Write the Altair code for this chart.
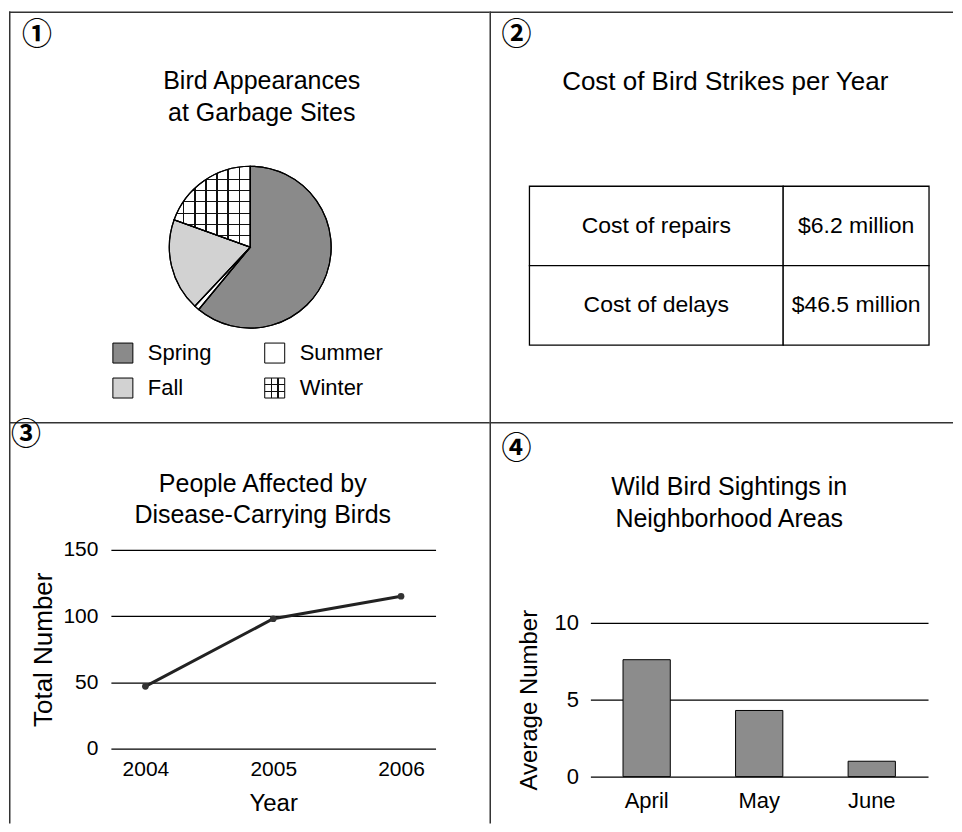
import altair as alt
import pandas as pd

# ---------------- data ----------------
# Panel 1: Bird Appearances at Garbage Sites (percent of pie)
seasons = ["Spring", "Summer", "Fall", "Winter"]
season_share = [61, 1, 18.5, 19.5]

# Panel 2: Cost of Bird Strikes per Year
cost_items = ["Cost of repairs", "Cost of delays"]
cost_values = ["$6.2 million", "$46.5 million"]

# Panel 3: People Affected by Disease-Carrying Birds
years = ["2004", "2005", "2006"]
people = [47, 98, 115]
people_ticks = [0, 50, 100, 150]

# Panel 4: Wild Bird Sightings in Neighborhood Areas
months = ["April", "May", "June"]
sightings = [7.6, 4.3, 1.0]
sighting_ticks = [0, 5, 10]

# ---------------- style ----------------
FONT = "Liberation Sans"
CJK = "Noto Sans CJK JP"
season_fill = ["#8a8a8a", "#ffffff", "#d2d2d2", "#ffffff"]
LINE = "#333333"
W1, W2, H1, H2 = 481, 464, 411, 402

one = pd.DataFrame({"k": [0]})


def stripes(offsets, half, vertical):
    clear = "rgba(0,0,0,0)"
    ink = "#111111"
    stops = [{"offset": 0, "color": clear}]
    for o in offsets:
        stops += [
            {"offset": o - half, "color": clear},
            {"offset": o - half, "color": ink},
            {"offset": o + half, "color": ink},
            {"offset": o + half, "color": clear},
        ]
    stops.append({"offset": 1, "color": clear})
    if vertical:
        return {"gradient": "linear", "x1": 0, "y1": 0, "x2": 1, "y2": 0, "stops": stops}
    return {"gradient": "linear", "x1": 0, "y1": 0, "x2": 0, "y2": 1, "stops": stops}


def text_at(txt, x, y, size, font=FONT, baseline="alphabetic", line_height=None, weight="normal"):
    kw = dict(text=txt, fontSize=size, font=font, align="center",
              baseline=baseline, color="black", fontWeight=weight)
    if line_height:
        kw["lineHeight"] = line_height
    return alt.Chart(one).mark_text(**kw).encode(x=alt.value(x), y=alt.value(y))


def circled(txt, x, y):
    return text_at(txt, x, y, 30, font=CJK, baseline="middle", weight="bold")


def borders(w, h):
    top = alt.Chart(one).mark_rule(color=LINE, strokeWidth=1.5).encode(
        x=alt.value(0), x2=alt.value(w), y=alt.value(0.75))
    left = alt.Chart(one).mark_rule(color=LINE, strokeWidth=1.5).encode(
        x=alt.value(0.75), y=alt.value(0), y2=alt.value(h))
    return [top, left]


is_winter = "datum.season === 'Winter'"

# ---------------- panel 1 ----------------
pie_df = pd.DataFrame({"season": seasons, "share": season_share})
pie_df["idx"] = range(len(seasons))
pie_df["col"] = pie_df["idx"] % 2
pie_df["row"] = pie_df["idx"] // 2

color_scale = alt.Scale(domain=seasons, range=season_fill)
pie_enc = dict(
    theta=alt.Theta("share:Q", stack=True),
    order=alt.Order("idx:Q"),
    x=alt.value(241.5), y=alt.value(236), radius=alt.value(81),
)
pie_base = alt.Chart(pie_df)
pie = pie_base.mark_arc(stroke="black", strokeWidth=1.2).encode(
    fill=alt.Fill("season:N", scale=color_scale, legend=None), **pie_enc)
pie_vgrid = pie_base.mark_arc().encode(
    fill=alt.condition(is_winter,
                       alt.value(stripes([0.127, 0.273, 0.418, 0.564, 0.709, 0.855], 0.008, True)),
                       alt.value("transparent")), **pie_enc)
pie_hgrid = pie_base.mark_arc().encode(
    fill=alt.condition(is_winter,
                       alt.value(stripes([0.16, 0.30, 0.44, 0.58, 0.72, 0.86], 0.0075, False)),
                       alt.value("transparent")), **pie_enc)
pie_outline = pie_base.mark_arc(fillOpacity=0, stroke="black", strokeWidth=1.2).encode(**pie_enc)

lx = alt.X("col:O", scale=alt.Scale(type="point", domain=[0, 1], range=[114, 266], padding=0), axis=None)
ly = alt.Y("row:O", scale=alt.Scale(type="point", domain=[0, 1], range=[342, 377], padding=0), axis=None)
leg_sq = alt.Chart(pie_df).mark_square(size=400, stroke="black", strokeWidth=1, opacity=1).encode(
    x=lx, y=ly, fill=alt.Fill("season:N", scale=color_scale, legend=None))
leg_v = alt.Chart(pie_df).mark_square(size=400, opacity=1).encode(
    x=lx, y=ly,
    fill=alt.condition(is_winter, alt.value(stripes([0.34, 0.66], 0.03, True)), alt.value("transparent")))
leg_h = alt.Chart(pie_df).mark_square(size=400, opacity=1).encode(
    x=lx, y=ly,
    fill=alt.condition(is_winter, alt.value(stripes([0.34, 0.66], 0.03, False)), alt.value("transparent")))
leg_txt = alt.Chart(pie_df).mark_text(align="left", baseline="middle", dx=25, fontSize=22,
                                      font=FONT, color="black").encode(x=lx, y=ly, text="season:N")

cell1 = alt.layer(
    *borders(W1, H1),
    circled("①", 28, 24),
    text_at(["Bird Appearances", "at Garbage Sites"], 253, 78, 25, line_height=32),
    pie, pie_vgrid, pie_hgrid, pie_outline,
    leg_sq, leg_v, leg_h, leg_txt,
).properties(width=W1, height=H1)

# ---------------- panel 2 ----------------
tab_df = pd.DataFrame({"item": cost_items, "value": cost_values})
ty = alt.Y("item:N", scale=alt.Scale(type="band", domain=cost_items, range=[175, 334],
                                     paddingInner=0, paddingOuter=0), axis=None)
tab_c1 = alt.Chart(tab_df).mark_rect(fill="white", stroke="black", strokeWidth=1.3).encode(
    y=ty, x=alt.value(40), x2=alt.value(294))
tab_c2 = alt.Chart(tab_df).mark_rect(fill="white", stroke="black", strokeWidth=1.3).encode(
    y=ty, x=alt.value(294), x2=alt.value(440))
tab_t1 = alt.Chart(tab_df).mark_text(fontSize=23, font=FONT, color="black", baseline="middle").encode(
    y=ty, x=alt.value(167), text="item:N")
tab_t2 = alt.Chart(tab_df).mark_text(fontSize=23, font=FONT, color="black", baseline="middle").encode(
    y=ty, x=alt.value(367), text="value:N")

cell2 = alt.layer(
    *borders(W2, H1),
    circled("②", 27, 24),
    text_at("Cost of Bird Strikes per Year", 236, 79, 26),
    tab_c1, tab_c2, tab_t1, tab_t2,
).properties(width=W2, height=H1)

# ---------------- panel 3 ----------------
line_df = pd.DataFrame({"year": years, "people": people})
x3 = alt.X("year:O", scale=alt.Scale(type="point", domain=years, range=[102, 427], padding=0.27),
           axis=alt.Axis(title="Year", offset=-84, labelPadding=19, titlePadding=12, domain=False,
                         ticks=False, grid=False, labelAngle=0, labelFontSize=21, titleFontSize=24))
y3 = alt.Y("people:Q", scale=alt.Scale(domain=[0, 150], range=[327, 128], nice=False),
           axis=alt.Axis(title="Total Number", values=people_ticks, offset=-102, labelPadding=13,
                         titlePadding=6, domain=False, ticks=False, grid=True, gridColor="black",
                         gridWidth=1.2, gridOpacity=1, labelFontSize=21, titleFontSize=26))
line = alt.Chart(line_df).mark_line(color="#222222", strokeWidth=3).encode(x=x3, y=y3)
pts = alt.Chart(line_df).mark_circle(size=45, color="#333333", opacity=1).encode(x=x3, y=y3)

cell3 = alt.layer(
    *borders(W1, H2),
    circled("③", 17, 13),
    text_at(["People Affected by", "Disease-Carrying Birds"], 254, 70, 25, line_height=31),
    line, pts,
).properties(width=W1, height=H2)

# ---------------- panel 4 ----------------
bar_df = pd.DataFrame({"month": months, "sightings": sightings})
x4 = alt.X("month:N", sort=months,
           scale=alt.Scale(type="band", domain=months, range=[101, 439], paddingInner=0.58, paddingOuter=0.29),
           axis=alt.Axis(title=None, offset=-47, labelPadding=14, domain=False, ticks=False, grid=False,
                         labelAngle=0, labelFontSize=22))
y4 = alt.Y("sightings:Q", scale=alt.Scale(domain=[0, 10], range=[355, 201], nice=False),
           axis=alt.Axis(title="Average Number", values=sighting_ticks, offset=-101, labelPadding=12,
                         titlePadding=12, domain=False, ticks=False, grid=True, gridColor="black",
                         gridWidth=1.2, gridOpacity=1, labelFontSize=22, titleFontSize=24))
bars = alt.Chart(bar_df).mark_bar(fill="#8c8c8c", stroke="black", strokeWidth=1).encode(x=x4, y=y4)

cell4 = alt.layer(
    *borders(W2, H2),
    circled("④", 27, 27),
    text_at(["Wild Bird Sightings in", "Neighborhood Areas"], 240, 73, 25, line_height=32),
    bars,
).properties(width=W2, height=H2)

# ---------------- layout ----------------
chart = alt.concat(cell1, cell2, cell3, cell4, columns=2, spacing=0, bounds="flush").properties(
    padding={"left": 0, "top": 2, "right": 0, "bottom": 0}
).configure_view(stroke=None).configure_axis(
    labelFont=FONT, titleFont=FONT, labelColor="black", titleColor="black", titleFontWeight="normal"
).configure_text(font=FONT)

chart.save("out.html", embed_options={"renderer": "svg", "actions": False})
